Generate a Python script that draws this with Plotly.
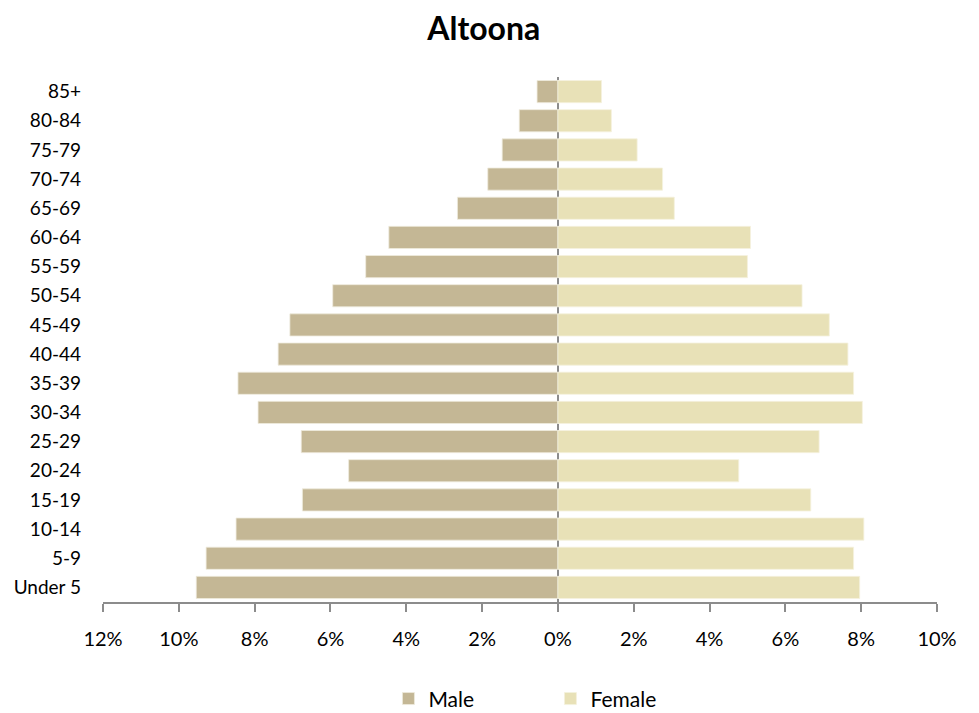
import plotly.graph_objects as go

age_groups = ["Under 5", "5-9", "10-14", "15-19", "20-24", "25-29", "30-34", "35-39",
              "40-44", "45-49", "50-54", "55-59", "60-64", "65-69", "70-74", "75-79",
              "80-84", "85+"]
male_pct = [9.54, 9.28, 8.49, 6.74, 5.52, 6.77, 7.91, 8.44, 7.38, 7.07, 5.94, 5.07,
            4.46, 2.65, 1.85, 1.47, 1.02, 0.55]
female_pct = [7.96, 7.80, 8.07, 6.67, 4.77, 6.89, 8.03, 7.80, 7.65, 7.16, 6.44, 5.00,
              5.08, 3.07, 2.76, 2.09, 1.41, 1.15]
tick_vals = [-12, -10, -8, -6, -4, -2, 0, 2, 4, 6, 8, 10]
tick_text = ["12%", "10%", "8%", "6%", "4%", "2%", "0%", "2%", "4%", "6%", "8%", "10%"]

male_color = "#C4B795"
female_color = "#E8E1B7"
font_family = "Lato, 'Open Sans', sans-serif"

fig = go.Figure()
fig.add_trace(go.Bar(
    y=age_groups, x=[-v for v in male_pct], orientation="h", name="Male",
    marker=dict(color=male_color, line=dict(color="#EFEBDD", width=0.8)),
))
fig.add_trace(go.Bar(
    y=age_groups, x=female_pct, orientation="h", name="Female",
    marker=dict(color=female_color, line=dict(color="#F5F1DE", width=0.8)),
))

# page is offset by the body's default 8px margin; size/margins compensate for it
fig.update_layout(
    width=971, height=705,
    barmode="relative",
    bargap=0.24,
    plot_bgcolor="white", paper_bgcolor="white",
    margin=dict(l=95, r=42, t=69, b=111, autoexpand=False),
    title=dict(text="<b>Altoona</b>", x=0.49, xanchor="center", y=0.97, yanchor="middle",
               yref="container",
               font=dict(family=font_family, size=32, color="black")),
    font=dict(family=font_family, color="black"),
    legend=dict(orientation="h", x=0.5365, xanchor="center", y=0.02, yref="container",
                yanchor="middle", font=dict(size=21, family=font_family),
                entrywidth=117, entrywidthmode="pixels", traceorder="normal"),
    xaxis=dict(range=[-12, 10], tickvals=tick_vals, ticktext=tick_text,
               showgrid=False, showline=True, linecolor="#8C8C8C", linewidth=2,
               ticks="outside", ticklen=8, tickcolor="#8C8C8C", tickwidth=1.5,
               zeroline=True, zerolinecolor="#8C8C8C", zerolinewidth=2,
               layer="above traces", ticklabelstandoff=10, automargin=False,
               tickfont=dict(size=20, family=font_family)),
    yaxis=dict(showgrid=False, showline=False, ticks="", ticklabelstandoff=21,
               automargin=False, tickfont=dict(size=19, family=font_family)),
)

fig.write_html("out.html")
